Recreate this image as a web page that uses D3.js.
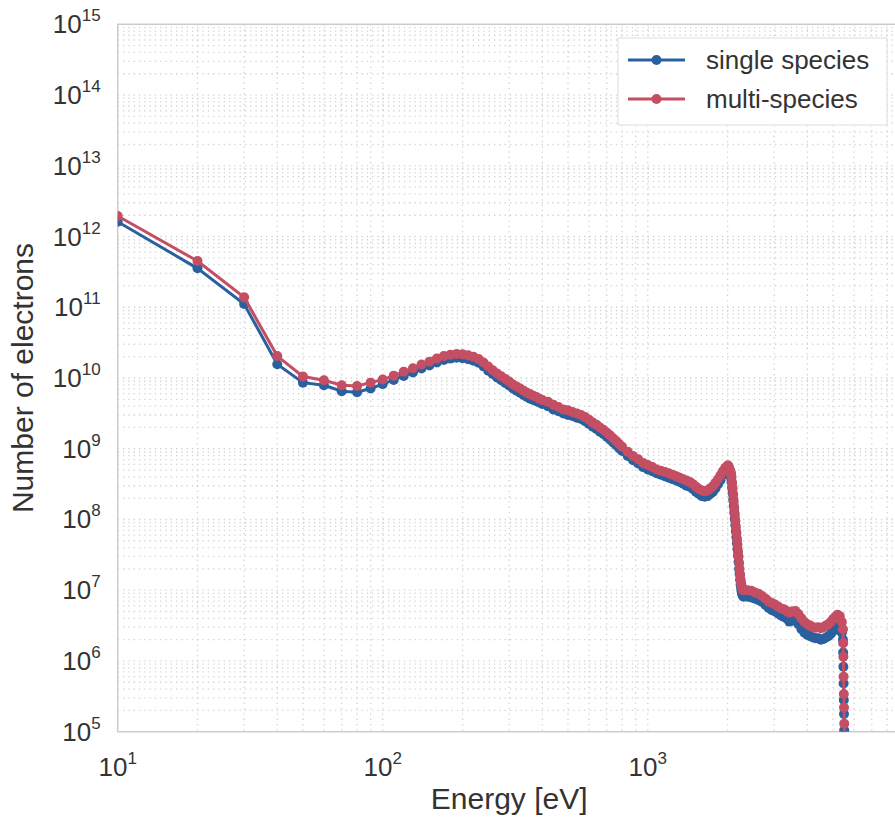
<!DOCTYPE html>
<html>
<head>
<meta charset="utf-8">
<script src="https://cdn.jsdelivr.net/npm/d3@7"></script>
<style>
  body { margin: 0; background: #fff; }
  text { font-family: "Liberation Sans", Arial, sans-serif; fill: #333; }
</style>
</head>
<body>
<div id="chart"></div>
<script>
// energy bins [eV]
var energy = [
  10, 20, 30, 40, 50, 60, 70, 80, 90, 100,
  110, 120, 130, 140, 150, 160, 170, 180, 190, 200,
  210, 220, 230, 240, 250, 260, 270, 280, 290, 300,
  310, 320, 330, 340, 350, 360, 370, 380, 390, 400,
  420, 440, 460, 480, 500, 520, 540, 560, 580, 600,
  620, 640, 660, 680, 700, 720, 740, 760, 780, 800,
  840, 880, 920, 960, 1000, 1040, 1080, 1120, 1160, 1200,
  1240, 1280, 1320, 1360, 1400, 1440, 1480, 1520, 1560, 1600,
  1640, 1680, 1720, 1760, 1800, 1840, 1880, 1920, 1960, 2000,
  2010, 2020, 2030, 2040, 2050, 2060, 2070, 2080, 2090, 2100,
  2110, 2120, 2130, 2140, 2150, 2160, 2170, 2180, 2190, 2200,
  2210, 2220, 2230, 2240, 2250, 2260, 2270, 2280, 2290, 2300,
  2380, 2460, 2540, 2620, 2700, 2780, 2860, 2940, 3020, 3100, 3180, 3260, 3340, 3420,
  3500, 3600, 3700, 3800, 3900, 4000, 4100, 4200, 4300, 4400,
  4500, 4600, 4700, 4800, 4900, 5000, 5100, 5200, 5300, 5400,
  5450, 5460, 5470, 5480, 5490, 5500, 5510, 5520
]

var singleSpecies = [
  1.62e12, 3.55e11, 1.11e11, 1.56e10, 8.6e9, 7.9e9, 6.5e9, 6.3e9, 7.1e9, 8.2e9,
  9.4e9, 1.07e10, 1.2e10, 1.36e10, 1.5e10, 1.66e10, 1.8e10, 1.88e10, 1.93e10, 1.9e10,
  1.84e10, 1.76e10, 1.64e10, 1.46e10, 1.27e10, 1.14e10, 1.02e10, 9.3e9, 8.5e9, 7.85e9,
  7.1e9, 6.6e9, 6.2e9, 5.75e9, 5.4e9, 5.1e9, 4.9e9, 4.7e9, 4.5e9, 4.3e9,
  4.0e9, 3.6e9, 3.4e9, 3.16e9, 3.0e9, 2.9e9, 2.75e9, 2.63e9, 2.45e9, 2.24e9,
  2.04e9, 1.9e9, 1.74e9, 1.62e9, 1.48e9, 1.35e9, 1.23e9, 1.12e9, 1.02e9, 9.3e8,
  7.9e8, 6.9e8, 6.2e8, 5.5e8, 5.1e8, 4.8e8, 4.5e8, 4.3e8, 4.1e8, 3.9e8,
  3.7e8, 3.55e8, 3.4e8, 3.2e8, 3.0e8, 2.9e8, 2.7e8, 2.45e8, 2.3e8, 2.14e8,
  2.1e8, 2.14e8, 2.3e8, 2.45e8, 2.75e8, 3.16e8, 3.6e8, 4.3e8, 4.8e8, 5.1e8,
  5.1e8, 4.9e8, 4.7e8, 4.5e8, 4.3e8, 3.9e8, 3.4e8, 2.8e8, 2.34e8, 1.9e8,
  1.55e8, 1.26e8, 1.02e8, 8.3e7, 6.8e7, 5.6e7, 4.6e7, 3.8e7, 3.1e7, 2.5e7,
  2.0e7, 1.7e7, 1.41e7, 1.2e7, 1.05e7, 9.5e6, 8.9e6, 8.5e6, 8.3e6, 8.1e6,
  8.1e6, 7.9e6, 7.6e6, 7.2e6, 6.8e6, 6.2e6, 5.6e6, 5.2e6, 5.0e6, 4.7e6, 4.4e6, 4.2e6, 4.0e6, 3.6e6,
  3.7e6, 3.8e6, 3.3e6, 2.8e6, 2.5e6, 2.34e6, 2.24e6, 2.14e6, 2.1e6, 2.1e6,
  2.0e6, 2.04e6, 2.14e6, 2.24e6, 2.4e6, 2.63e6, 2.9e6, 3.1e6, 2.95e6, 2.5e6,
  2.0e6, 1.32e6, 8.3e5, 4.8e5, 2.8e5, 1.78e5, 1.05e5, 6.3e4
]

var multiSpecies = [
  1.95e12, 4.5e11, 1.38e11, 2.04e10, 1.05e10, 9.3e9, 7.9e9, 7.7e9, 8.6e9, 9.5e9,
  1.08e10, 1.23e10, 1.37e10, 1.55e10, 1.7e10, 1.88e10, 2.04e10, 2.14e10, 2.19e10, 2.16e10,
  2.09e10, 2.0e10, 1.86e10, 1.66e10, 1.45e10, 1.29e10, 1.16e10, 1.06e10, 9.7e9, 8.9e9,
  8.1e9, 7.6e9, 7.1e9, 6.6e9, 6.2e9, 5.9e9, 5.6e9, 5.4e9, 5.1e9, 4.9e9,
  4.6e9, 4.2e9, 3.9e9, 3.6e9, 3.5e9, 3.3e9, 3.16e9, 3.0e9, 2.8e9, 2.57e9,
  2.34e9, 2.19e9, 2.0e9, 1.86e9, 1.7e9, 1.55e9, 1.41e9, 1.29e9, 1.17e9, 1.07e9,
  9.1e8, 7.9e8, 7.1e8, 6.3e8, 5.9e8, 5.5e8, 5.1e8, 4.9e8, 4.7e8, 4.5e8,
  4.3e8, 4.1e8, 3.9e8, 3.7e8, 3.55e8, 3.4e8, 3.16e8, 2.9e8, 2.7e8, 2.57e8,
  2.5e8, 2.57e8, 2.75e8, 2.95e8, 3.3e8, 3.7e8, 4.2e8, 4.8e8, 5.4e8, 5.8e8,
  5.8e8, 5.5e8, 5.2e8, 5.0e8, 4.8e8, 4.5e8, 4.0e8, 3.3e8, 2.75e8, 2.24e8,
  1.78e8, 1.45e8, 1.17e8, 9.5e7, 7.8e7, 6.5e7, 5.2e7, 4.4e7, 3.5e7, 3.0e7,
  2.4e7, 2.0e7, 1.66e7, 1.41e7, 1.26e7, 1.15e7, 1.07e7, 1.02e7, 1.0e7, 1.0e7,
  1.0e7, 9.8e6, 9.3e6, 8.9e6, 8.3e6, 7.6e6, 6.9e6, 6.6e6, 6.3e6, 5.9e6, 5.5e6, 5.4e6, 5.1e6, 4.8e6,
  5.0e6, 5.1e6, 4.6e6, 4.0e6, 3.55e6, 3.3e6, 3.16e6, 3.0e6, 2.95e6, 3.0e6,
  2.9e6, 3.0e6, 3.16e6, 3.3e6, 3.55e6, 3.9e6, 4.2e6, 4.5e6, 4.3e6, 3.55e6,
  2.8e6, 1.78e6, 1.15e6, 6.0e5, 3.4e5, 2.2e5, 1.3e5, 8e4
]

var seriesNames = ['single species', 'multi-species']
var seriesColors = ['#2b609f', '#c44e63']

var xTickExp = [1, 2, 3]
var yTickExp = [5, 6, 7, 8, 9, 10, 11, 12, 13, 14, 15]

var W = 895, H = 817
var margin = {top: 24.3, left: 117.7, bottom: 85.3}
var plotW = 783, plotH = H - margin.top - margin.bottom

var x = d3.scaleLog().domain([10, 9000]).range([0, plotW])
var y = d3.scaleLog().domain([1e5, 1e15]).range([plotH, 0])

var svg = d3.select('#chart').append('svg')
  .attr('width', W)
  .attr('height', H)

var g = svg.append('g')
  .attr('transform', 'translate(' + margin.left + ',' + margin.top + ')')

g.append('clipPath').attr('id', 'plotclip')
  .append('rect').attr('width', plotW).attr('height', plotH)

// grid (major + minor, all dotted)
var xGrid = []
for (var e = 1; e <= 3; e++) for (var m = 1; m <= 9; m++) {
  var v = m * Math.pow(10, e)
  if (v > 10 && v <= 9000) xGrid.push(v)
}
var yGrid = []
for (var e = 5; e < 15; e++) for (var m = 1; m <= 9; m++) {
  var v = m * Math.pow(10, e)
  if (v > 1e5) yGrid.push(v)
}

g.append('g').selectAll('line').data(xGrid).enter().append('line')
  .attr('x1', d => x(d)).attr('x2', d => x(d))
  .attr('y1', 0).attr('y2', plotH)
  .attr('stroke', '#d2d2d2').attr('stroke-width', 1.3)
  .attr('stroke-dasharray', '1.3,4')

g.append('g').selectAll('line').data(yGrid).enter().append('line')
  .attr('x1', 0).attr('x2', plotW)
  .attr('y1', d => y(d)).attr('y2', d => y(d))
  .attr('stroke', '#d2d2d2').attr('stroke-width', 1.3)
  .attr('stroke-dasharray', '1.3,4')

// frame
g.append('rect')
  .attr('width', plotW).attr('height', plotH)
  .attr('fill', 'none').attr('stroke', '#cccccc').attr('stroke-width', 1.5)

// series
var series = [singleSpecies, multiSpecies]
var line = d3.line()
  .x((d, i) => x(energy[i]))
  .y(d => y(d))

var marks = g.append('g').attr('clip-path', 'url(#plotclip)')
series.forEach(function(vals, k) {
  var sg = marks.append('g')
  sg.append('path')
    .datum(vals)
    .attr('d', line)
    .attr('fill', 'none')
    .attr('stroke', seriesColors[k])
    .attr('stroke-width', 3)
  sg.selectAll('circle').data(vals).enter().append('circle')
    .attr('cx', (d, i) => x(energy[i]))
    .attr('cy', d => y(d))
    .attr('r', 5)
    .attr('fill', seriesColors[k])
})

// tick labels as 10^n
var xl = g.append('g')
xTickExp.forEach(function(p) {
  var t = xl.append('text')
    .attr('x', x(Math.pow(10, p)))
    .attr('y', plotH + 44)
    .attr('text-anchor', 'middle')
    .style('font-size', '26px')
  t.append('tspan').text('10')
  t.append('tspan').attr('dy', -12).style('font-size', '17px').text(p)
})

var yl = g.append('g')
yTickExp.forEach(function(p) {
  var t = yl.append('text')
    .attr('x', -17)
    .attr('y', y(Math.pow(10, p)) + 9)
    .attr('text-anchor', 'end')
    .style('font-size', '26px')
  t.append('tspan').text('10')
  t.append('tspan').attr('dy', -12).style('font-size', '17px').text(p)
})

// axis titles
svg.append('text')
  .attr('x', margin.left + plotW / 2)
  .attr('y', 809)
  .attr('text-anchor', 'middle')
  .style('font-size', '30px')
  .text('Energy [eV]')

svg.append('text')
  .attr('transform', 'translate(33,' + (margin.top + plotH / 2) + ') rotate(-90)')
  .attr('text-anchor', 'middle')
  .style('font-size', '30px')
  .text('Number of electrons')

// legend
var lg = svg.append('g').attr('transform', 'translate(618,38)')
lg.append('rect')
  .attr('width', 269).attr('height', 87)
  .attr('fill', '#fff').attr('stroke', '#dddddd').attr('stroke-width', 1)
seriesNames.forEach(function(name, k) {
  var yy = 22 + k * 39
  lg.append('line')
    .attr('x1', 10).attr('x2', 67).attr('y1', yy).attr('y2', yy)
    .attr('stroke', seriesColors[k]).attr('stroke-width', 3)
  lg.append('circle')
    .attr('cx', 38.5).attr('cy', yy).attr('r', 5)
    .attr('fill', seriesColors[k])
  lg.append('text')
    .attr('x', 88).attr('y', yy + 9)
    .style('font-size', '26px')
    .text(name)
})
</script>
</body>
</html>
